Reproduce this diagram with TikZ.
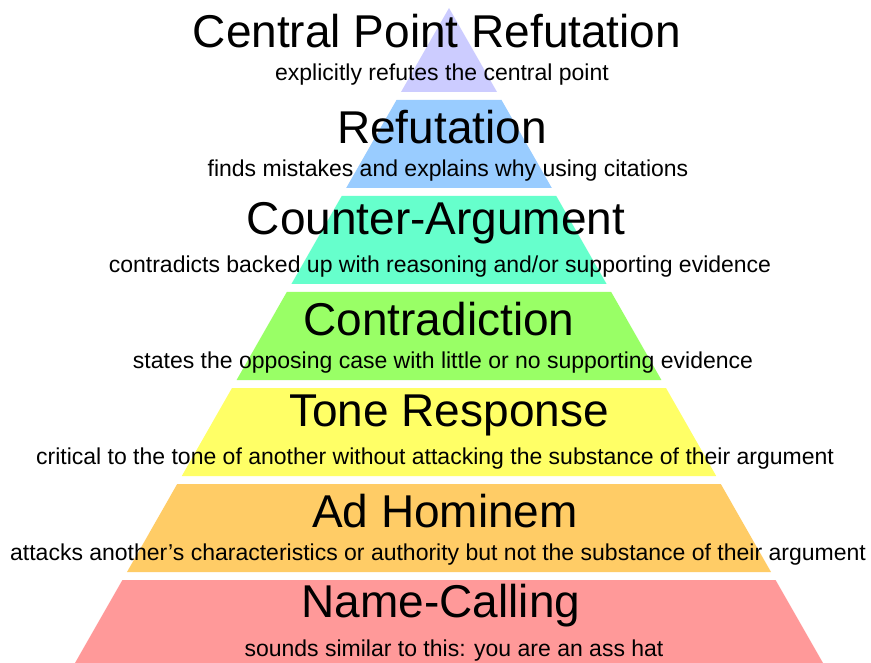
\documentclass[tikz,border=0pt]{standalone}
\usepackage{fontspec}
\setmainfont{Liberation Sans}
\definecolor{lavender}{RGB}{204,204,255}
\definecolor{skyblue}{RGB}{153,204,255}
\definecolor{aqua}{RGB}{102,255,204}
\definecolor{lime}{RGB}{153,255,102}
\definecolor{lemon}{RGB}{255,255,102}
\definecolor{apricot}{RGB}{255,204,102}
\definecolor{salmon}{RGB}{255,153,153}
\begin{document}
\begin{tikzpicture}[x=1pt,y=-1pt]
		\tikzset{level/.style = {draw=none}}
		\tikzset{title/.style = {font=\fontsize{46}{46}\selectfont, inner sep=0pt}}
		\tikzset{remark/.style = {font=\fontsize{23}{23}\selectfont, inner sep=0pt}}
		\useasboundingbox (0,0) rectangle (871,663);
		\fill[white] (0,0) rectangle (871,663);
		% the seven levels, bottom one cut off by the page
		\fill[level, lavender] (449,8) -- (497,92) -- (401,92) -- cycle;
		\fill[level, skyblue] (396.5,100) -- (501.5,100) -- (551.8,188) -- (346.2,188) -- cycle;
		\fill[level, aqua] (341.7,196) -- (556.3,196) -- (606.6,284) -- (291.4,284) -- cycle;
		\fill[level, lime] (286.8,292) -- (611.2,292) -- (661.4,380) -- (236.6,380) -- cycle;
		\fill[level, lemon] (232,388) -- (666,388) -- (716.2,476) -- (181.8,476) -- cycle;
		\fill[level, apricot] (177.2,484) -- (720.8,484) -- (771,572) -- (127,572) -- cycle;
		\fill[level, salmon] (122.4,580) -- (775.6,580) -- (823,663) -- (75,663) -- cycle;
		% names and descriptions
		\node[title] (centralpoint) at (437,31) {Central Point Refutation};
		\node[remark] (centralpointtxt) at (442,75) {explicitly refutes the central point};
		\node[title] (refutation) at (442,127) {Refutation};
		\node[remark] (refutationtxt) at (448,171) {finds mistakes and explains why using citations};
		\node[title] (counterarg) at (436,223) {Counter-Argument};
		\node[remark] (counterargtxt) at (440,267) {contradicts backed up with reasoning and/or supporting evidence};
		\node[title] (contradiction) at (439,319) {Contradiction};
		\node[remark] (contradictiontxt) at (443,363) {states the opposing case with little or no supporting evidence};
		\node[title] (tone) at (449,415) {Tone Response};
		\node[remark] (tonetxt) at (435,459) {critical to the tone of another without attacking the substance of their argument};
		\node[title] (adhominem) at (445,511) {Ad Hominem};
		\node[remark] (adhominemtxt) at (438,555) {attacks another’s characteristics or authority but not the substance of their argument};
		\node[title] (namecalling) at (441,606) {Name-Calling};
		\node[remark] (namecallingtxt) at (454,651) {sounds similar to this: you are an ass hat};
	\end{tikzpicture}
\end{document}
